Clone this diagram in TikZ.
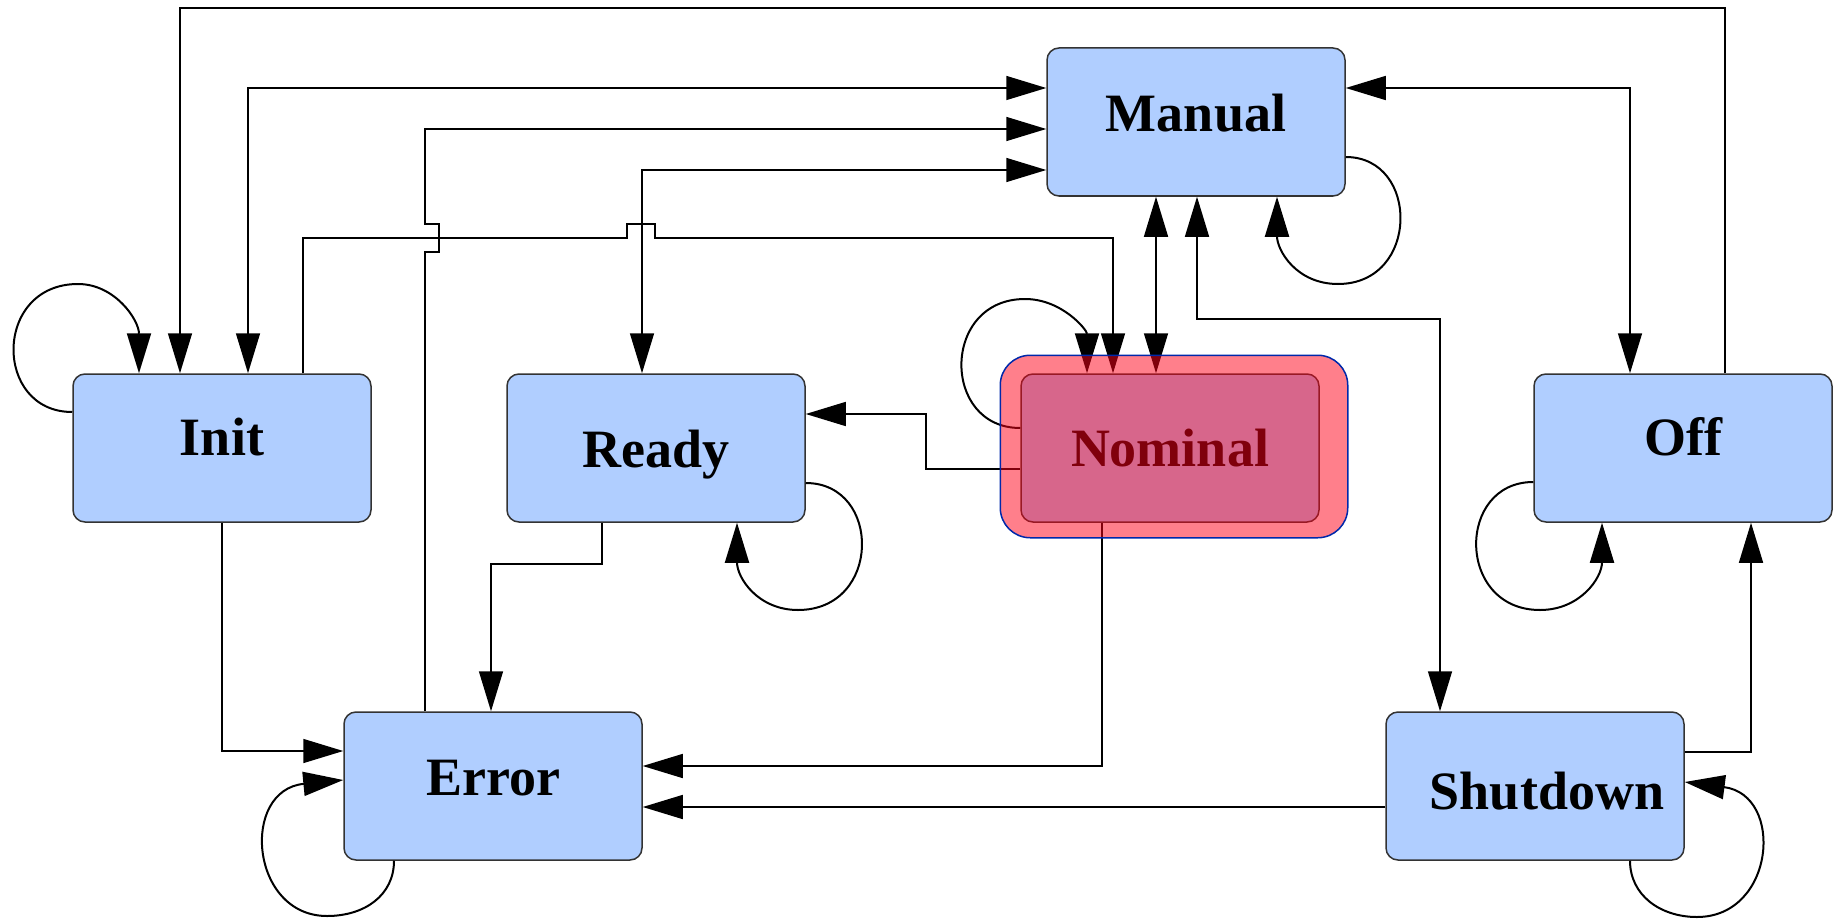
\documentclass[tikz,border=0pt]{standalone}
\usepackage{fontspec}
\setmainfont{Liberation Serif}
\usetikzlibrary{arrows.meta}
\definecolor{stateblue}{RGB}{176,206,255}
\definecolor{hlred}{RGB}{255,0,24}
\definecolor{hlblue}{RGB}{0,40,170}

\begin{document}
\begin{tikzpicture}[
			x=1pt, y=-1pt,
			>={Triangle[length=40pt,width=24pt]},
			state/.style={draw=black!80, line width=1.5pt, fill=stateblue, rounded corners=12pt, minimum width=298pt, minimum height=148pt, inner sep=0pt, font=\bfseries\fontsize{54}{60}\selectfont},
			lift/.style={text height=40pt, text depth=#1},
			link/.style={line width=1.5pt},
			selfloop/.style={line width=2pt},
			highlight/.style={draw=hlblue, line width=1.5pt, fill=hlred, fill opacity=0.5, rounded corners=30pt},
		]

		\useasboundingbox (0,0) rectangle (1843,920);

		\node[state, lift=21pt] (manual) at (1196,122) {Manual};
		\node[state, lift=26pt] (init) at (222,448) {Init};
		\node[state, lift=2pt] (ready) at (656,448) {Ready};
		\node[state] (nominal) at (1170,448) {Nominal};
		\node[state, lift=25pt] (off) at (1683,448) {Off};
		\node[state, lift=22pt] (error) at (493,786) {Error};
		\node[state, text height=47pt, text depth=0pt] (shutdown) at (1535,786) {\hspace*{24pt}Shutdown};

		\draw[link, ->] (off.north -| 1725,0) -- (1725,8) -| (init.north -| 180,0);
		\draw[link, <->] (manual.west |- 0,88) -| (init.north -| 248,0);
		\draw[link, ->] (error.north -| 425,0) -- (425,252) -- (439,252) -- (439,224) -- (425,224) |- (manual.west |- 0,129);
		\draw[link, <->] (manual.west |- 0,170) -| (ready.north -| 642,0);
		\draw[link, ->] (init.north -| 303,0) |- (627,238) -- (627,224) -- (655,224) -- (655,238) -| (nominal.north -| 1113,0);
		\draw[link, <->] (manual.south -| 1156,0) -- (nominal.north -| 1156,0);
		\draw[link, <->] (manual.south -| 1197,0) |- (1440,319) -- (shutdown.north -| 1440,0);
		\draw[link, <->] (manual.east |- 0,88) -| (off.north -| 1630,0);
		\draw[link, ->] (nominal.west |- 0,469) -| (926,414) -- (ready.east |- 0,414);
		\draw[link, ->] (ready.south -| 602,0) |- (491,564) -- (error.north -| 491,0);
		\draw[link, ->] (init.south -| 222,0) |- (error.west |- 0,751);
		\draw[link, ->] (nominal.south -| 1102,0) |- (error.east |- 0,766);
		\draw[link, ->] (shutdown.west |- 0,807) -- (error.east |- 0,807);
		\draw[link, ->] (shutdown.east |- 0,752) -| (off.south -| 1751,0);

		\draw[selfloop, ->] (init.west |- 0,412) .. controls (-7,412) and (-7,284) .. (78,284) .. controls (115,284) and (139,320) .. (init.north -| 139,0);
		\draw[selfloop, ->] (manual.east |- 0,157) .. controls (1420,157) and (1420,284) .. (1338,284) .. controls (1296,284) and (1277,250) .. (manual.south -| 1277,0);
		\draw[selfloop, ->] (nominal.west |- 0,428) .. controls (941,428) and (941,299) .. (1025,299) .. controls (1062,299) and (1087,330) .. (nominal.north -| 1087,0);
		\draw[selfloop, ->] (ready.east |- 0,483) .. controls (882,483) and (882,610) .. (798,610) .. controls (758,610) and (737,578) .. (ready.south -| 737,0);
		\draw[selfloop, ->] (off.west |- 0,482) .. controls (1456,482) and (1456,610) .. (1540,610) .. controls (1580,610) and (1602,578) .. (off.south -| 1602,0);
		\draw[selfloop, ->] (error.south -| 394,0) .. controls (394,895) and (365,916) .. (327,916) .. controls (250,916) and (240,790) .. (error.west |- 0,780);
		\draw[selfloop, ->] (shutdown.south -| 1630,0) .. controls (1630,895) and (1660,917) .. (1697,917) .. controls (1775,917) and (1785,795) .. (shutdown.east |- 0,782);

		\draw[highlight] ([xshift=-20pt,yshift=18pt]nominal.north west) rectangle ([xshift=28pt,yshift=-15pt]nominal.south east);

\end{tikzpicture}
\end{document}
